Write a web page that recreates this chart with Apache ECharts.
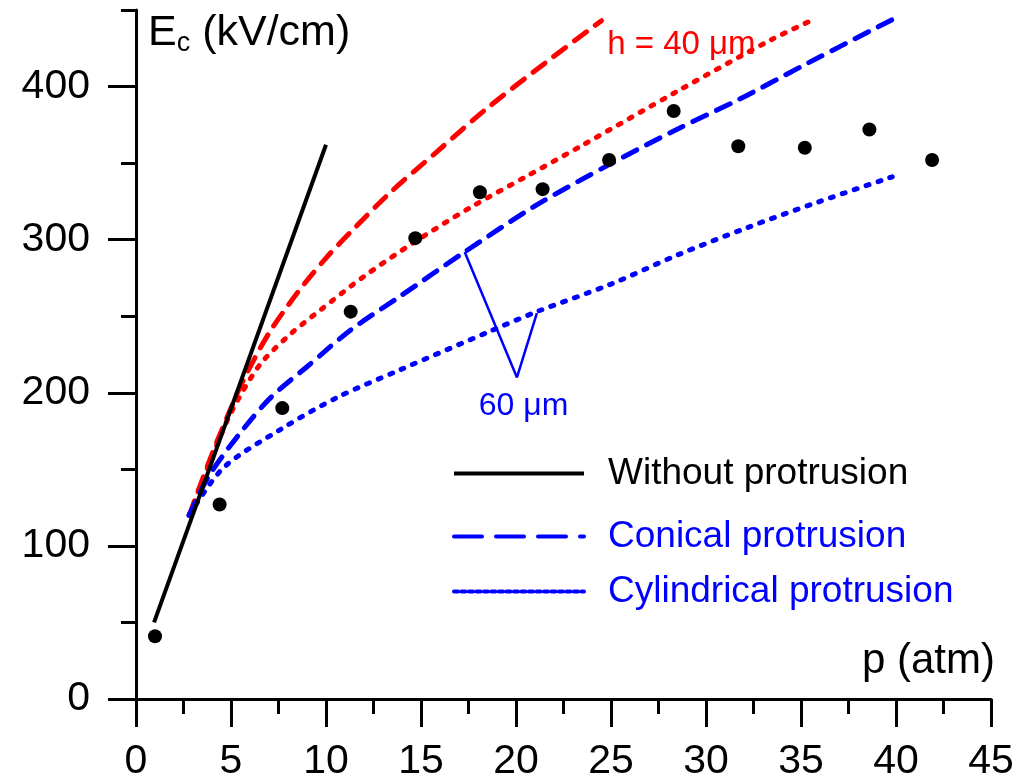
<!DOCTYPE html>
<html>
<head>
<meta charset="utf-8">
<title>Ec vs p</title>
<script src="https://cdn.jsdelivr.net/npm/echarts@6/dist/echarts.min.js"></script>
<style>
  html, body { margin: 0; padding: 0; background: #fff; }
  #main { width: 1032px; height: 782px; }
</style>
</head>
<body>
<div id="main"></div>
<script>
// x axis ticks
var xTicks = [0, 5, 10, 15, 20, 25, 30, 35, 40, 45]

// measured points  [p (atm), Ec (kV/cm)]
var measured = [
  [1.0, 41], [4.4, 127], [7.7, 190], [11.3, 253], [14.7, 301], [18.1, 331],
  [21.4, 333], [24.9, 352], [28.3, 384], [31.7, 361], [35.2, 360], [38.6, 372], [41.9, 352]
]

// without protrusion
var noProtrusion = [[0.95, 50], [10, 362]]

// h = 40 um
var conical40 = [
  [2.8, 120], [4, 160], [5, 190], [5.6, 207], [7, 239], [8.6, 267], [10, 288],
  [11.3, 305], [13.4, 331], [15.8, 357], [18.4, 385], [21.6, 416], [24.5, 443]
]
var cylindrical40 = [
  [2.8, 120], [4, 158], [5, 187], [6.5, 218], [8.1, 238], [9.7, 254], [12, 276],
  [14.6, 298], [17.6, 321], [20.5, 341], [23.4, 361], [28.5, 397], [33.5, 431], [35.7, 444]
]

// h = 60 um
var conical60 = [
  [2.8, 120], [3.8, 145], [5.5, 174], [7.1, 197], [9, 217], [11.3, 241], [13.9, 263],
  [17.3, 292], [21, 322], [24.9, 349], [28.3, 371], [31.8, 392], [35, 413], [40, 445]
]
var cylindrical60 = [
  [2.8, 120], [4.6, 151], [7.6, 176], [10.6, 197], [13.9, 215], [18.6, 240], [21.1, 253],
  [25, 271], [28.5, 290], [32.2, 308], [36, 325], [39.8, 341]
]

// pointer for the 60 um label
var pointer60 = [[17.3, 292], [20.05, 210], [21.1, 252]]

var FONT = 'Liberation Sans, Arial, sans-serif'
var RED = '#ff0000'
var BLUE = '#0000ff'
var DASH = [15, 11]
var DOT = [3, 9.5]

var myChart = echarts.init(document.getElementById('main'))

function curve(name, data, color, type) {
  return {
    name: name, type: 'line', data: data, smooth: 0.3,
    symbol: 'none', showSymbol: false, z: 3,
    lineStyle: { color: color, width: 5, type: type, cap: 'round' },
    itemStyle: { color: color }
  }
}

function legendItem(name, color, top, line) {
  return {
    data: [{ name: name, textStyle: { color: color } }],
    left: 447, top: top, itemWidth: 130, itemHeight: 20, selectedMode: false,
    itemStyle: { opacity: 0 },
    lineStyle: line,
    textStyle: { fontFamily: FONT, fontSize: 37, padding: [0, 0, 0, 19] }
  }
}

var option = {
  animation: false,
  backgroundColor: '#fff',
  grid: { left: 136, right: 41, top: 10, bottom: 83 },
  legend: [
    legendItem('Without protrusion', '#000', 450, { width: 4, type: 'solid' }),
    legendItem('Conical protrusion', BLUE, 513, { width: 4, type: [28, 14] }),
    legendItem('Cylindrical protrusion', BLUE, 568, { width: 4, type: [4, 3.5] })
  ],
  xAxis: {
    type: 'value', min: 0, max: 45, interval: 5,
    splitLine: { show: false },
    axisLine: { lineStyle: { color: '#000', width: 3 } },
    axisTick: { length: 28, lineStyle: { width: 3 } },
    minorTick: { show: true, splitNumber: 2, length: 15, lineStyle: { color: '#000', width: 3 } },
    axisLabel: { color: '#000', fontFamily: FONT, fontSize: 41, margin: 42,
      formatter: function (v) { return xTicks.indexOf(v) >= 0 ? String(v) : '' } }
  },
  yAxis: [{
    type: 'value', min: 0, max: 450, interval: 100, position: 'left',
    splitLine: { show: false },
    axisLine: { onZero: false, lineStyle: { color: '#000', width: 3 } },
    axisTick: { length: 28, lineStyle: { width: 3 } },
    axisLabel: { color: '#000', fontFamily: FONT, fontSize: 41, margin: 46,
      showMaxLabel: false }
  }, {
    type: 'value', min: 0, max: 450, interval: 50, position: 'left', offset: 0,
    splitLine: { show: false },
    axisLine: { show: false },
    axisTick: { length: 15, lineStyle: { color: '#000', width: 3 } },
    axisLabel: { show: false }
  }],
  series: [
    curve('h40 conical', conical40, RED, DASH),
    curve('h40 cylindrical', cylindrical40, RED, DOT),
    curve('Conical protrusion', conical60, BLUE, DASH),
    curve('Cylindrical protrusion', cylindrical60, BLUE, DOT),
    {
      name: 'Without protrusion', type: 'line', data: noProtrusion,
      symbol: 'none', showSymbol: false, z: 4,
      lineStyle: { color: '#000', width: 4 }, itemStyle: { color: '#000' }
    },
    {
      name: 'pointer', type: 'line', data: pointer60, symbol: 'none', z: 4,
      lineStyle: { color: BLUE, width: 2.5 }
    },
    {
      name: 'measured', type: 'scatter', data: measured, symbolSize: 14, z: 5,
      itemStyle: { color: '#000', opacity: 1 }
    }
  ]
}
myChart.setOption(option)

// texts anchored in data coordinates
var h40At = myChart.convertToPixel({ gridIndex: 0 }, [24.8, 427])
var h60At = myChart.convertToPixel({ gridIndex: 0 }, [20.4, 191])
myChart.setOption({
  graphic: [
    {
      type: 'text', left: 148, top: 12,
      style: {
        text: '{b|E}{s|c}{b| (kV/cm)}',
        rich: {
          b: { fontFamily: FONT, fontSize: 43, fill: '#000', lineHeight: 48 },
          s: { fontFamily: FONT, fontSize: 27, fill: '#000', lineHeight: 48, verticalAlign: 'bottom', padding: [0, 0, 0, 0] }
        }
      }
    },
    {
      type: 'text', right: 37, top: 640,
      style: { text: 'p (atm)', fontFamily: FONT, fontSize: 42, fill: '#000' }
    },
    {
      type: 'text', x: h40At[0], y: h40At[1],
      style: { text: 'h = 40 \u03bcm', fontFamily: FONT, fontSize: 33, fill: RED, verticalAlign: 'middle' }
    },
    {
      type: 'text', x: h60At[0], y: h60At[1],
      style: { text: '60 \u03bcm', fontFamily: FONT, fontSize: 32, fill: BLUE, align: 'center', verticalAlign: 'middle' }
    }
  ]
})

window.onresize = function () {
  myChart.resize()
}
</script>
</body>
</html>
